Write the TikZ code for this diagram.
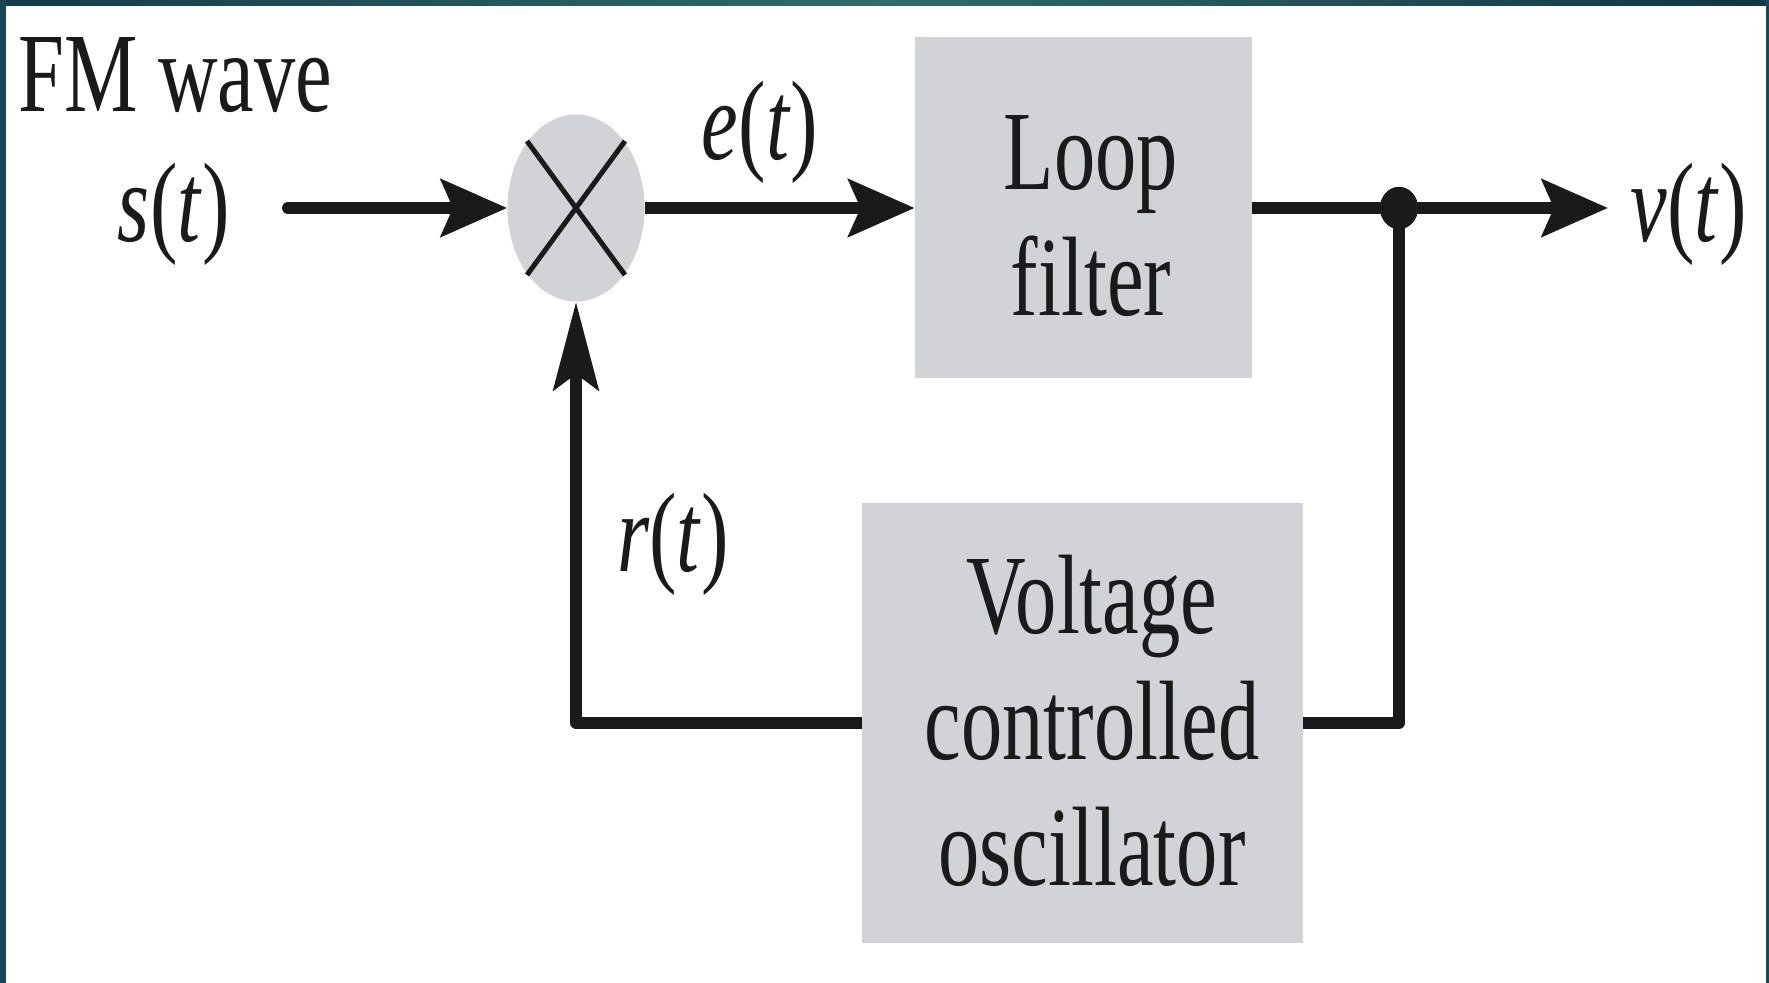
\documentclass[tikz,border=0pt]{standalone}
\usepackage{fontspec}
\setmainfont{Liberation Serif}[FakeStretch=0.73]
\usetikzlibrary{arrows.meta,shapes.geometric}
\definecolor{boxgray}{RGB}{210,211,214}
\definecolor{ink}{RGB}{26,26,26}
\definecolor{tealdark}{RGB}{20,60,76}
\definecolor{tealend}{RGB}{17,54,70}
\definecolor{tealmid}{RGB}{50,108,103}
\definecolor{tealside}{RGB}{24,72,86}
\begin{document}
\begin{tikzpicture}[x=0.5pt,y=-0.5pt,
  txt/.style={font=\fontsize{56.5}{63}\selectfont, text=ink, inner sep=0pt},
  blk/.style={rectangle, fill=boxgray, inner sep=0pt},
  sig/.style={draw=ink, line width=6pt, line join=round},
  harr/.style={-{Stealth[length=33pt,width=28.5pt,inset=6pt]}},
  varr/.style={-{Stealth[length=44pt,width=22.5pt,inset=8pt]}},
  dot/.style={ellipse, fill=ink, minimum width=19pt, minimum height=21pt, inner sep=0pt},
]
\fill[white] (0,0) rectangle (1769,983);
\useasboundingbox (0,0) rectangle (1769,983);
% frame
\shade[left color=tealdark, right color=tealend, middle color=tealmid] (0,0) rectangle (1769,6);
\fill[tealside] (0,0) rectangle (6,983);
\fill[tealside] (1766,0) rectangle (1769,983);

% blocks
\node[blk, ellipse, minimum width=68.5pt, minimum height=93.5pt] (mix) at (576,208) {};
\node[blk, minimum width=168.5pt, minimum height=170.5pt] (lf) at (1083.5,208) {};
\node[blk, minimum width=220.5pt, minimum height=220pt] (vco) at (1082.5,723) {};

% block texts
\node[txt, align=center, anchor=north] (lft) at (1091,115) {Loop\\filter};
\node[txt, align=center, anchor=north] (vcot) at (1092,555) {Voltage\\controlled\\oscillator};

% multiplier cross
\draw[ink, line width=2.5pt, shift={(mix.center)}] (-49,-67) -- (49,67) (-49,67) -- (49,-67);

% labels
\node[txt, anchor=base west] (fm) at (18,112) {FM wave};
\node[txt, anchor=base east] (s) at (230,242) {\textit{s}(\textit{t})};
\node[txt, anchor=base] (e) at (760,160) {\textit{e}(\textit{t})};
\node[txt, anchor=base] (r) at (673,572) {\textit{r}(\textit{t})};
\node[txt, anchor=base west] (v) at (1630,242) {\textit{v}(\textit{t})};

% connectors
\coordinate (sin) at (288,208);
\coordinate (vout) at (1608,208);
\node[dot] (j) at (1399,208) {};
\draw[sig, harr, line cap=round] (sin) -- (mix.west);
\draw[sig, harr] (mix.east) -- (lf.west);
\draw[sig, harr] (lf.east) -- (vout);
\draw[sig] (j.center) |- (vco.east);
\draw[sig, varr] (vco.west) -| (mix.south);
\node[dot] at (j) {};
\end{tikzpicture}
\end{document}
